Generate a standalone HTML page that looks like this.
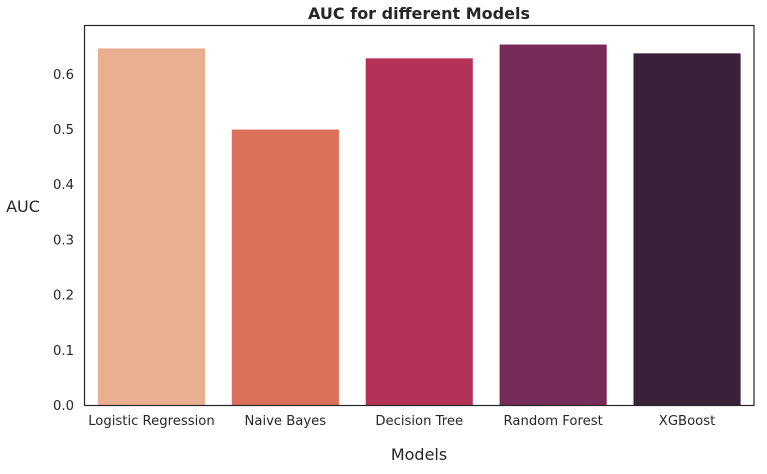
<!DOCTYPE html>
<html><head><meta charset="utf-8"><style>
body{margin:0;background:#fff;font-family:"DejaVu Sans",sans-serif;}
svg text{font-family:"DejaVu Sans","Liberation Sans",sans-serif;fill:#262626;}
</style></head><body>
<svg id="chart" width="767" height="470" viewBox="0 0 767 470" xmlns="http://www.w3.org/2000/svg">
<text x="419" y="19" text-anchor="middle" font-size="16" font-weight="bold">AUC for different Models</text>
<text x="23" y="212" text-anchor="middle" font-size="16">AUC</text>
<text x="419" y="460" text-anchor="middle" font-size="16">Models</text>
<g id="bars"></g><g id="yticks"></g><g id="xticks"></g>
<rect x="84.5" y="25.5" width="669.5" height="380" fill="none" stroke="#262626" stroke-width="1.2"/>
</svg>
<script>
const categories=["Logistic Regression","Naive Bayes","Decision Tree","Random Forest","XGBoost"];
const aucValues=[0.647,0.500,0.629,0.654,0.638];
const barColors=["#EAAF91","#DB6F59","#B43157","#772B58","#3A2039"];
const yTickLabels=["0.0","0.1","0.2","0.3","0.4","0.5","0.6"];
const yTicks=[0,0.1,0.2,0.3,0.4,0.5,0.6];
const L=84.5,R=754,T=25.5,B=405.5,yMax=0.6885;
const ns="http://www.w3.org/2000/svg";
const y=v=>B-(v/yMax)*(B-T);
const slot=(R-L)/categories.length;
const x=i=>L+slot*i;
const bars=document.getElementById('bars'),yt=document.getElementById('yticks'),xt=document.getElementById('xticks');
categories.forEach((c,i)=>{
 const r=document.createElementNS(ns,'rect');
 
 
 r.setAttribute('x',x(i)+slot*0.1);r.setAttribute('width',slot*0.8);
 r.setAttribute('y',y(aucValues[i]));r.setAttribute('height',B-y(aucValues[i]));
 r.setAttribute('fill',barColors[i]);bars.appendChild(r);
 const t=document.createElementNS(ns,'text');
 
 
 t.setAttribute('x',x(i)+slot/2);t.setAttribute('y',425);t.setAttribute('text-anchor','middle');t.setAttribute('font-size','13.2');
 t.textContent=c;xt.appendChild(t);
});
yTicks.forEach((v,i)=>{
 const t=document.createElementNS(ns,'text');
 
 
 t.setAttribute('x',74);t.setAttribute('y',y(v)+4.5);t.setAttribute('text-anchor','end');t.setAttribute('font-size','13.2');
 t.textContent=yTickLabels[i];yt.appendChild(t);
});
</script>
</body></html>
